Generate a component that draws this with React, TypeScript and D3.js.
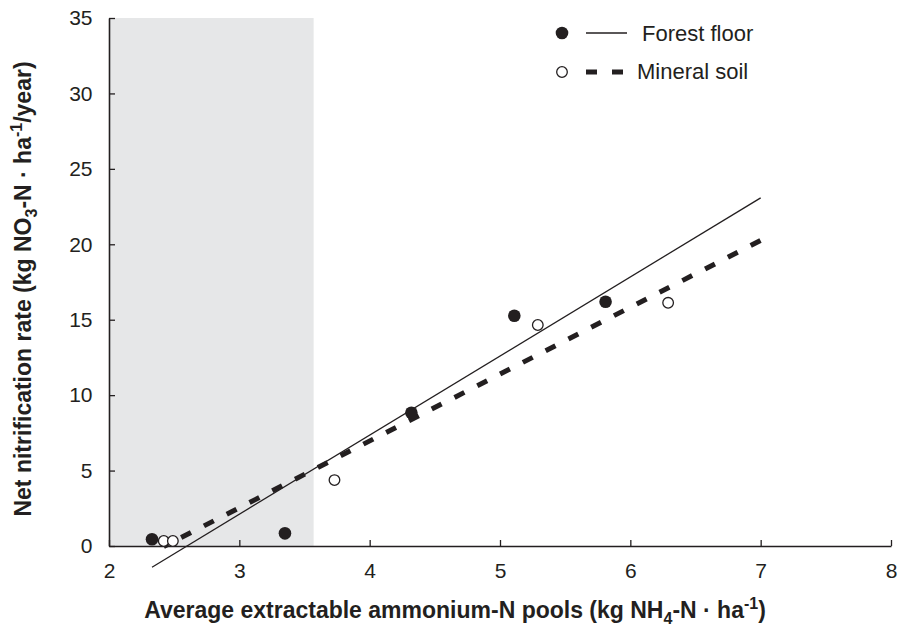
import React, { useEffect, useRef } from "react";
import * as d3 from "d3";

// values
const forestX = [2.33, 3.35, 4.32, 5.11, 5.81];
const forestY = [0.45, 0.84, 8.83, 15.26, 16.19];
const mineralX = [2.42, 2.49, 3.73, 5.29, 6.29];
const mineralY = [0.33, 0.33, 4.37, 14.65, 16.12];
const fitEnd = 7;
const shadeRange = [2, 3.57];
const xTicks = [2, 3, 4, 5, 6, 7, 8];
const yTicks = [0, 5, 10, 15, 20, 25, 30, 35];
const seriesNames = ["Forest floor", "Mineral soil"];

const W = 901;
const H = 635;
const INK = "#231f20";
const FONT = "'Liberation Sans', Arial, sans-serif";

// least squares line through the points
const fit = (xs: number[], ys: number[]) => {
  const mx = d3.mean(xs)!;
  const my = d3.mean(ys)!;
  const sxy = d3.sum(xs, (x, i) => (x - mx) * (ys[i] - my));
  const sxx = d3.sum(xs, (x) => (x - mx) ** 2);
  const b = sxy / sxx;
  return (x: number) => my + b * (x - mx);
};

const App = () => {
  const ref = useRef<SVGSVGElement>(null);

  useEffect(() => {
    const svg = d3.select(ref.current);
    svg.selectAll("*").remove();

    const x = d3.scaleLinear().domain([2, 8]).range([109, 891]);
    const y = d3.scaleLinear().domain([0, 35]).range([546, 18]);

    // shaded band
    svg.append("rect")
      .attr("x", x(shadeRange[0]))
      .attr("y", y(35))
      .attr("width", x(shadeRange[1]) - x(shadeRange[0]))
      .attr("height", y(0) - y(35))
      .attr("fill", "#e6e7e8");

    // axes
    const xAxis = svg.append("g")
      .attr("transform", `translate(0,${y(0)})`)
      .call(d3.axisBottom(x).tickValues(xTicks).tickFormat(d3.format("d"))
        .tickSizeInner(-6).tickSizeOuter(0).tickPadding(17));
    const yAxis = svg.append("g")
      .attr("transform", `translate(${x(2)},0)`)
      .call(d3.axisLeft(y).tickValues(yTicks).tickFormat(d3.format("d"))
        .tickSizeInner(-6).tickSizeOuter(0).tickPadding(16.5));

    [xAxis, yAxis].forEach((g) => {
      g.select(".domain").attr("stroke", INK).attr("stroke-width", 1.6);
      g.selectAll(".tick line").attr("stroke", INK).attr("stroke-width", 1.3);
      g.selectAll(".tick text")
        .attr("fill", INK)
        .style("font-family", FONT)
        .style("font-size", "21px");
    });

    // regression lines
    const ff = fit(forestX, forestY);
    const ms = fit(mineralX, mineralY);
    const line = d3.line<number[]>().x((d) => x(d[0])).y((d) => y(d[1]));

    const x0f = d3.min(forestX)!;
    svg.append("path")
      .attr("d", line([[x0f, ff(x0f)], [fitEnd, ff(fitEnd)]]))
      .attr("stroke", INK)
      .attr("stroke-width", 1.3)
      .attr("fill", "none");

    const x0m = d3.min(mineralX)!;
    svg.append("path")
      .attr("d", line([[x0m, ms(x0m)], [fitEnd, ms(fitEnd)]]))
      .attr("stroke", INK)
      .attr("stroke-width", 5)
      .attr("stroke-dasharray", "11 14.6")
      .attr("stroke-dashoffset", 6)
      .attr("fill", "none");

    // points
    svg.append("g")
      .selectAll("circle")
      .data(forestX)
      .enter()
      .append("circle")
      .attr("cx", (d) => x(d))
      .attr("cy", (d, i) => y(forestY[i]))
      .attr("r", 6.3)
      .attr("fill", INK);

    svg.append("g")
      .selectAll("circle")
      .data(mineralX)
      .enter()
      .append("circle")
      .attr("cx", (d) => x(d))
      .attr("cy", (d, i) => y(mineralY[i]))
      .attr("r", 5.3)
      .attr("fill", "white")
      .attr("stroke", INK)
      .attr("stroke-width", 1.3);

    // legend
    const lg = svg.append("g");
    lg.append("circle").attr("cx", 562).attr("cy", 33).attr("r", 6.3).attr("fill", INK);
    lg.append("line").attr("x1", 586).attr("x2", 627).attr("y1", 33).attr("y2", 33)
      .attr("stroke", INK).attr("stroke-width", 1.3);
    lg.append("text").attr("x", 642).attr("y", 41).text(seriesNames[0]);
    lg.append("circle").attr("cx", 562).attr("cy", 72).attr("r", 5.3)
      .attr("fill", "white").attr("stroke", INK).attr("stroke-width", 1.3);
    lg.append("line").attr("x1", 586).attr("x2", 625).attr("y1", 72).attr("y2", 72)
      .attr("stroke", INK).attr("stroke-width", 5).attr("stroke-dasharray", "11 15");
    lg.append("text").attr("x", 637).attr("y", 79).text(seriesNames[1]);
    lg.selectAll("text").attr("fill", INK).style("font-family", FONT).style("font-size", "22px");

    // axis titles
    const xt = svg.append("text")
      .attr("x", 455)
      .attr("y", 618)
      .attr("text-anchor", "middle");
    xt.append("tspan").text("Average extractable ammonium-N pools (kg NH");
    xt.append("tspan").attr("dy", 6).attr("font-size", "16px").text("4");
    xt.append("tspan").attr("dy", -6).text("-N · ha");
    xt.append("tspan").attr("dy", -9).attr("font-size", "16px").text("-1");
    xt.append("tspan").attr("dy", 9).text(")");

    const yt = svg.append("text")
      .attr("transform", "translate(31,289) rotate(-90)")
      .attr("text-anchor", "middle");
    yt.append("tspan").text("Net nitrification rate (kg NO");
    yt.append("tspan").attr("dy", 6).attr("font-size", "16px").text("3");
    yt.append("tspan").attr("dy", -6).text("-N · ha");
    yt.append("tspan").attr("dy", -9).attr("font-size", "16px").text("-1");
    yt.append("tspan").attr("dy", 9).text("/year)");

    [xt, yt].forEach((t) =>
      t.attr("fill", INK)
        .style("font-family", FONT)
        .style("font-size", "23px")
        .style("font-weight", "bold")
    );
  }, []);

  return (
    <div style={{ position: "absolute", left: 0, top: 0 }}>
      <svg ref={ref} width={W} height={H} style={{ display: "block", background: "white" }}></svg>
    </div>
  );
};

export default App;
